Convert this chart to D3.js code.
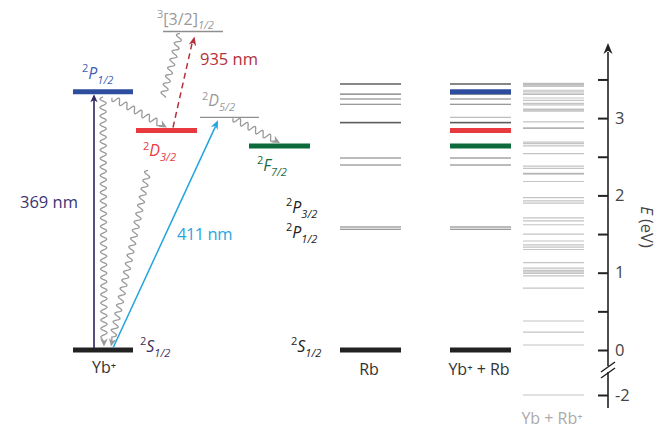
<!DOCTYPE html>
<html>
<head>
<meta charset="utf-8">
<script src="https://cdn.jsdelivr.net/npm/d3@7"></script>
<style>
  body { margin: 0; background: #fff; }
  svg { display: block; }
  text { font-family: "Open Sans", "Noto Sans", sans-serif; }
</style>
</head>
<body>
<svg id="chart" width="667" height="428"></svg>
<script>
// ---- Energies in eV, relative to Yb+ (2S1/2) + Rb (2S1/2) ----
const ybIonLevelIds = ["S12", "P12", "D32", "D52", "F72", "B12"];
const ybIonLevelE   = [0, 3.34, 2.84, 3.01, 2.64, 4.12];

// Rb excited levels (5P1/2, 5P3/2, 4D, 6S, 6P doublet, 5D, 7S, 4F, 7P doublet)
const rbLevelE = [1.562, 1.592, 2.393, 2.484, 2.937, 2.945, 3.180, 3.247, 3.310, 3.437, 3.445];

// Yb + Rb+ asymptotes (Yb excited states shifted by the ionisation-energy difference)
const ybRbIonLevelE = [
  -2.0, 0.065, 0.23, 0.375, 0.80, 0.96, 0.99, 1.01, 1.03, 1.06, 1.13,
  1.30, 1.33, 1.36, 1.41, 1.50, 1.62, 1.67, 1.71, 1.90, 1.93, 1.97,
  2.18, 2.275, 2.285, 2.35, 2.38, 2.54, 2.64, 2.67, 2.69, 2.866, 2.874,
  2.95, 3.09, 3.105, 3.115, 3.17, 3.19, 3.23, 3.26, 3.305, 3.315, 3.34,
  3.36, 3.41, 3.425, 3.435, 3.45
];

// Energy axis
const axisTickValues = [-2, 0, 0.5, 1, 1.5, 2, 2.5, 3, 3.5];
const axisTickLabels = ["-2", "0", "", "1", "", "2", "", "3", ""];

// Column captions
const columnNames = ["Yb\u207A", "Rb", "Yb\u207A + Rb", "Yb + Rb\u207A"];

// ---- Scales ----
// Broken axis: -2 eV sits just below the 0 eV line
const y = d3.scaleLinear()
  .domain([-2, 0, 4.2])
  .range([395, 350, 350 - 4.2 * 77.3]);

const svg = d3.select("#chart");

const COL = {
  blue: "#2f4d9e", red: "#e8393f", green: "#0d6a3a", gray: "#8e8e8e",
  dark: "#222", navy: "#2b2562", cyan: "#20a4e0", crimson: "#b3303a"
};

// horizontal extents of the Yb+ levels in the left-hand scheme
const ybX = {
  S12: [73, 133], P12: [73, 133], D32: [136, 197],
  D52: [200, 259], F72: [249, 310], B12: [163, 223]
};
const ybStyle = {
  S12: { c: COL.dark, w: 5 }, P12: { c: COL.blue, w: 5 }, D32: { c: COL.red, w: 5 },
  D52: { c: COL.gray, w: 1.3 }, F72: { c: COL.green, w: 5 }, B12: { c: COL.gray, w: 1.3 }
};
const ybE = {};
ybIonLevelIds.forEach((id, i) => ybE[id] = ybIonLevelE[i]);

// column extents for the combined-system ladders
const colX = { rb: [340, 401], ybrb: [450, 511], ion: [523, 584] };

// ---- helper: term-symbol label with super- and subscripts ----
function term(x, yb, sup, main, sub, color, italic = true, size = 16) {
  const t = svg.append("text").attr("x", x).attr("y", yb).attr("fill", color)
    .attr("font-size", size);
  const ss = Math.round(size * 0.7);
  if (sup) t.append("tspan").attr("font-size", ss).attr("dy", -size * 0.42).text(sup);
  t.append("tspan").attr("dy", sup ? size * 0.42 : 0)
    .attr("font-style", italic ? "italic" : "normal").text(main);
  if (sub) t.append("tspan").attr("font-size", ss).attr("font-style", "italic")
    .attr("dy", size * 0.3).text(sub);
  return t;
}

// ---- helper: arrowhead ----
function arrowHead(x1, y1, x2, y2, color, len = 8, half = 3.5) {
  const a = Math.atan2(y2 - y1, x2 - x1);
  const bx = x2 - len * Math.cos(a), by = y2 - len * Math.sin(a);
  const nx = -Math.sin(a), ny = Math.cos(a);
  svg.append("path")
    .attr("d", `M${x2},${y2}L${bx + nx * half},${by + ny * half}L${x2 - len * 0.7 * Math.cos(a)},${y2 - len * 0.7 * Math.sin(a)}L${bx - nx * half},${by - ny * half}Z`)
    .attr("fill", color);
}

// ---- helper: wavy decay arrow ----
function wavy(x1, y1, x2, y2, head = true) {
  const L = Math.hypot(x2 - x1, y2 - y1);
  const ux = (x2 - x1) / L, uy = (y2 - y1) / L;
  const nx = -uy, ny = ux;
  const tail = head ? 9 : 0;
  const wl = 8.5, amp = 3.1;
  const waveLen = L - tail;
  const pts = [];
  for (let s = 0; s <= waveLen; s += 0.5) {
    const o = amp * Math.sin(2 * Math.PI * s / wl);
    pts.push([x1 + ux * s + nx * o, y1 + uy * s + ny * o]);
  }
  if (head) pts.push([x2 - ux * 4, y2 - uy * 4]);
  svg.append("path").attr("d", d3.line()(pts))
    .attr("fill", "none").attr("stroke", "#9a9a9a").attr("stroke-width", 1.3);
  if (head) arrowHead(x1, y1, x2, y2, "#9a9a9a", 8, 3.8);
}

// ---- Yb+ level scheme ----
ybIonLevelIds.forEach(id => {
  svg.append("line")
    .attr("x1", ybX[id][0]).attr("x2", ybX[id][1])
    .attr("y1", y(ybE[id])).attr("y2", y(ybE[id]))
    .attr("stroke", ybStyle[id].c).attr("stroke-width", ybStyle[id].w);
});

// transitions
const yS = y(ybE.S12), yP = y(ybE.P12), yD3 = y(ybE.D32), yD5 = y(ybE.D52),
      yF = y(ybE.F72), yB = y(ybE.B12);

// 369 nm cooling transition
svg.append("line").attr("x1", 94).attr("x2", 94).attr("y1", yS - 2).attr("y2", yP + 8)
  .attr("stroke", COL.navy).attr("stroke-width", 1.6);
arrowHead(94, yS, 94, yP + 2.5, COL.navy, 8, 3.6);

// spontaneous decays
wavy(103, yP + 5, 104, yS - 3.5);
wavy(148, yD3 + 40, 111, yS - 3.5);
wavy(112, yP + 6, 167, yD3 - 3);
wavy(180, yB + 2, 163, yP + 5, false);
wavy(233, yD5 + 1, 280, yF - 3);

// 935 nm repump (dashed)
svg.append("line").attr("x1", 173).attr("y1", yD3 - 3).attr("x2", 192).attr("y2", yB + 12)
  .attr("stroke", COL.crimson).attr("stroke-width", 1.5).attr("stroke-dasharray", "6,4");
arrowHead(173, yD3 - 3, 194.5, yB + 5, COL.crimson, 9, 3.8);

// 411 nm quadrupole transition
svg.append("line").attr("x1", 113).attr("y1", yS - 2).attr("x2", 215.5).attr("y2", yD5 + 9)
  .attr("stroke", COL.cyan).attr("stroke-width", 1.5);
arrowHead(113, yS - 2, 218, yD5 + 3, COL.cyan, 9, 3.8);

// wavelength labels
svg.append("text").attr("x", 20).attr("y", 208).attr("font-size", 16.5)
  .attr("fill", "#3b3573").text("369 nm");
svg.append("text").attr("x", 200).attr("y", 65).attr("font-size", 16.5)
  .attr("fill", COL.crimson).text("935 nm");
svg.append("text").attr("x", 177).attr("y", 240).attr("font-size", 16.5)
  .attr("fill", "#29a6df").attr("letter-spacing", -0.5).text("411 nm");

// term labels of the Yb+ scheme
term(82, yP - 13, "2", "P", "1/2", "#3f5fb4");
term(143, yD3 + 26, "2", "D", "3/2", COL.red);
term(202, yD5 - 11, "2", "D", "5/2", "#9a9a9a");
term(257, yF + 25, "2", "F", "7/2", "#1d6a3f");
term(157, yB - 7, "3", "[3/2]", "1/2", "#9a9a9a", false);
term(140, yS + 2, "2", "S", "1/2", "#3b3060");

// Rb term labels
term(286, 213, "2", "P", "3/2", COL.dark);
term(286, 238, "2", "P", "1/2", COL.dark);
term(291, yS + 2, "2", "S", "1/2", COL.dark);

// ---- Rb and Yb+ + Rb ladders ----
["rb", "ybrb"].forEach(k => {
  const g = svg.append("g");
  g.selectAll("line.lv").data(rbLevelE).join("line")
    .attr("x1", colX[k][0]).attr("x2", colX[k][1])
    .attr("y1", d => y(d)).attr("y2", d => y(d))
    .attr("stroke", "#1e1e1e").attr("stroke-opacity", 0.6).attr("stroke-width", 1.1);
  g.append("line").attr("x1", colX[k][0]).attr("x2", colX[k][1])
    .attr("y1", y(0)).attr("y2", y(0))
    .attr("stroke", COL.dark).attr("stroke-width", 5);
});

// Yb+ levels added to the combined ladder
["D52", "F72", "D32", "P12"].forEach(id => {
  svg.append("line").attr("x1", colX.ybrb[0]).attr("x2", colX.ybrb[1])
    .attr("y1", y(ybE[id])).attr("y2", y(ybE[id]))
    .attr("stroke", id === "D52" ? "#bdbdbd" : ybStyle[id].c)
    .attr("stroke-width", id === "D52" ? 1.4 : 5);
});

// ---- Yb + Rb+ ladder ----
svg.append("g").selectAll("line").data(ybRbIonLevelE).join("line")
  .attr("x1", colX.ion[0]).attr("x2", colX.ion[1])
  .attr("y1", d => y(d)).attr("y2", d => y(d))
  .attr("stroke", "#8a8a8a").attr("stroke-opacity", 0.5).attr("stroke-width", 1.2);

// ---- column captions ----
const capX = [104, 369, 479, 552];
const capY = [373, 375, 375, 424];
const capC = ["#333", "#333", "#333", "#aaa"];
columnNames.forEach((n, i) => {
  svg.append("text").attr("x", capX[i]).attr("y", capY[i]).attr("text-anchor", "middle")
    .attr("font-size", 16).attr("fill", capC[i]).text(n);
});

// ---- energy axis ----
const ax = 608;
const axisG = svg.append("g").attr("transform", `translate(${ax},0)`)
  .call(d3.axisRight(y).tickValues(axisTickValues)
    .tickFormat((d, i) => axisTickLabels[i])
    .tickSizeInner(-10).tickSizeOuter(0).tickPadding(7));
axisG.select(".domain").remove();
axisG.selectAll(".tick line").attr("stroke", COL.dark).attr("stroke-width", 2);
axisG.selectAll(".tick text").attr("font-size", 16.5).attr("fill", "#444")
  .attr("font-family", "\"Open Sans\", sans-serif");

svg.append("line").attr("x1", ax).attr("x2", ax).attr("y1", 408).attr("y2", 52)
  .attr("stroke", COL.dark).attr("stroke-width", 1.6);
arrowHead(ax, 100, ax, 43, COL.dark, 11, 4.5);

// axis break marks
svg.append("rect").attr("x", ax - 2).attr("y", 366).attr("width", 4).attr("height", 6).attr("fill", "#fff");
[0, 6].forEach(o => {
  svg.append("line").attr("x1", ax - 7).attr("y1", 372 + o).attr("x2", ax + 7).attr("y2", 362 + o)
    .attr("stroke", COL.dark).attr("stroke-width", 1.5);
});

// axis title
const et = svg.append("text").attr("transform", "translate(641,227) rotate(90)")
  .attr("text-anchor", "middle").attr("font-size", 16.5).attr("fill", "#444");
et.append("tspan").attr("font-style", "italic").text("E");
et.append("tspan").text(" (eV)");
</script>
</body>
</html>
